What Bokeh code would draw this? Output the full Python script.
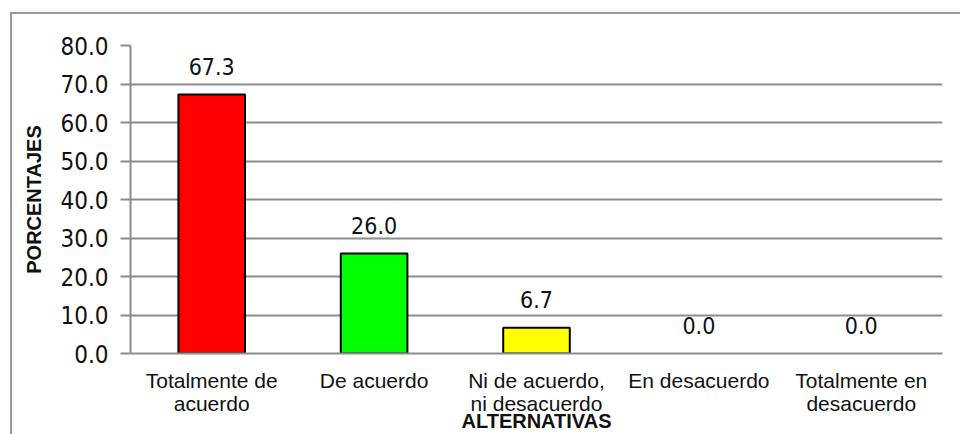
from bokeh.plotting import figure
from bokeh.models import Range1d, PrintfTickFormatter, ColumnDataSource, CategoricalAxis, CustomJSTickFormatter
from bokeh.embed import file_html
from bokeh.resources import INLINE
from bokeh.core.properties import value

categories = ["Totalmente de acuerdo", "De acuerdo", "Ni de acuerdo, ni desacuerdo",
              "En desacuerdo", "Totalmente en desacuerdo"]
label_line1 = ["Totalmente de", "De acuerdo", "Ni de acuerdo,", "En desacuerdo", "Totalmente en"]
label_line2 = ["acuerdo", " ", "ni desacuerdo", " ", "desacuerdo"]
percentages = [67.3, 26.0, 6.7, 0.0, 0.0]
bar_colors = ["#FF0000", "#00FF00", "#FFFF00", "#FFFFFF", "#FFFFFF"]
y_title = "PORCENTAJES"
x_title = "ALTERNATIVAS"

GRID = "#8c8c8c"
NUMFONT = "DejaVu Sans Condensed"
TXT = "#111111"

def line_formatter(lines):
    return CustomJSTickFormatter(
        args=dict(keys=categories, vals=lines),
        code="const i = keys.indexOf(tick); return i >= 0 ? vals[i] : tick;")

p = figure(x_range=categories, y_range=Range1d(0, 80), width=960, height=434,
           output_backend="svg", toolbar_location=None,
           min_border_left=130, min_border_right=18, min_border_top=45, min_border_bottom=81)
p.outline_line_color = None
p.background_fill_color = "white"
p.border_fill_color = None
p.styles = {
    "background": "linear-gradient(#9a9a9a,#9a9a9a) 10px 12px / calc(100% - 10px) 2px no-repeat, "
                  "linear-gradient(#9a9a9a,#9a9a9a) 10px 12px / 2px calc(100% - 12px) no-repeat, white",
}

src = ColumnDataSource(dict(
    x=categories, top=percentages, color=bar_colors,
    la=[1.0 if v > 0 else 0.0 for v in percentages],
    txt=["%.1f" % v for v in percentages],
))
p.vbar(x="x", top="top", width=0.41, fill_color="color", line_color="black",
       line_width=2, line_alpha="la", source=src)
p.text(x="x", y="top", text="txt", source=src, text_align="center",
       text_baseline="alphabetic", y_offset=-28, text_font=value(NUMFONT),
       text_font_size="23px", text_color=TXT)

# grid
p.xgrid.grid_line_color = None
p.ygrid.grid_line_color = GRID
p.ygrid.grid_line_width = 2
p.yaxis.ticker = [0, 10, 20, 30, 40, 50, 60, 70, 80]

# y axis
p.yaxis.formatter = PrintfTickFormatter(format="%.1f")
p.yaxis.axis_line_color = GRID
p.yaxis.axis_line_width = 2
p.yaxis.major_tick_line_color = GRID
p.yaxis.major_tick_line_width = 2
p.yaxis.major_tick_out = 10
p.yaxis.major_tick_in = 0
p.yaxis.minor_tick_line_color = None
p.yaxis.major_label_standoff = 12
p.yaxis.major_label_text_font = NUMFONT
p.yaxis.major_label_text_font_size = "24px"
p.yaxis.major_label_text_color = TXT
p.yaxis.axis_label = y_title
p.yaxis.axis_label_standoff = 12
p.yaxis.axis_label_text_font = "Liberation Sans"
p.yaxis.axis_label_text_font_style = "bold"
p.yaxis.axis_label_text_font_size = "20px"
p.yaxis.axis_label_text_color = TXT

# x axis, first line of category labels
xa = p.xaxis[0]
xa.axis_line_color = GRID
xa.axis_line_width = 2
xa.major_tick_line_color = None
xa.major_tick_out = 0
xa.major_tick_in = 0
xa.minor_tick_line_color = None
xa.formatter = line_formatter(label_line1)
xa.major_label_standoff = 15
xa.major_label_text_font = "Liberation Sans"
xa.major_label_text_font_size = "21px"
xa.major_label_text_color = TXT

# second line of category labels plus axis title
xa2 = CategoricalAxis()
xa2.axis_line_color = None
xa2.major_tick_line_color = None
xa2.major_tick_out = 0
xa2.major_tick_in = 0
xa2.minor_tick_line_color = None
xa2.formatter = line_formatter(label_line2)
xa2.major_label_standoff = -3
xa2.major_label_text_font = "Liberation Sans"
xa2.major_label_text_font_size = "21px"
xa2.major_label_text_color = TXT
xa2.axis_label = x_title
xa2.axis_label_standoff = -8
xa2.axis_label_text_font = "Liberation Sans"
xa2.axis_label_text_font_style = "bold"
xa2.axis_label_text_font_size = "20px"
xa2.axis_label_text_color = TXT
p.add_layout(xa2, "below")

open("out.html", "w").write(file_html(p, INLINE))
